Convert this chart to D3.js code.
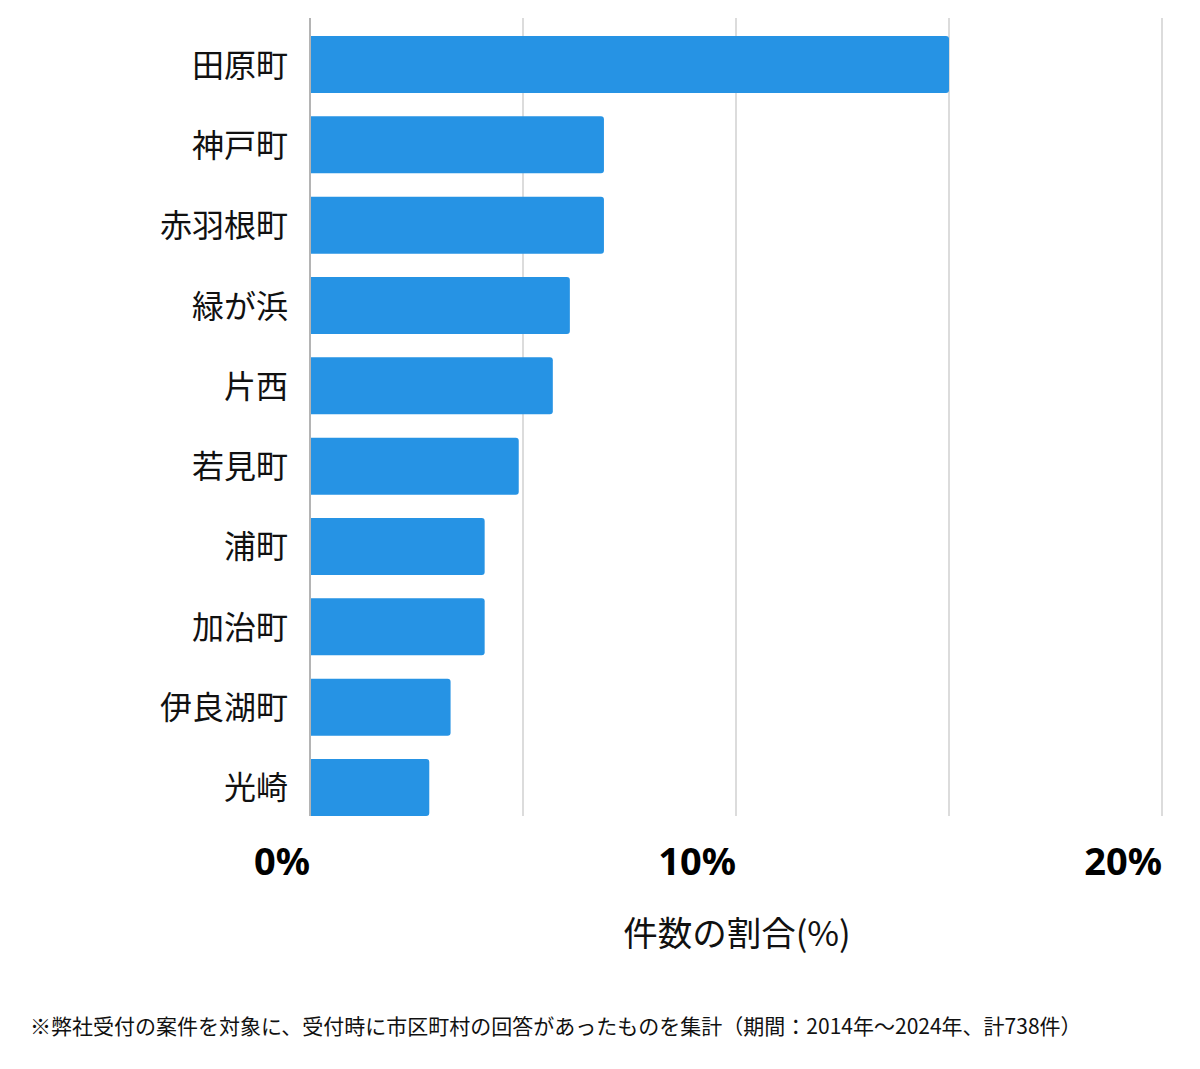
<!DOCTYPE html>
<html><head><meta charset="utf-8">
<script src="https://cdn.jsdelivr.net/npm/d3@7"></script>
<style>body{margin:0;background:#fff;}svg{display:block;}</style>
</head><body>
<svg id="c" width="1200" height="1069"></svg>
<script>
const categories = ["田原町","神戸町","赤羽根町","緑が浜","片西","若見町","浦町","加治町","伊良湖町","光崎"];
const shares = [15.0, 6.9, 6.9, 6.1, 5.7, 4.9, 4.1, 4.1, 3.3, 2.8];
const gridTicks = [0, 5, 10, 15, 20];
const labelTicks = [0, 10, 20];
const axisTitle = "件数の割合(%)";
const footnote = "※弊社受付の案件を対象に、受付時に市区町村の回答があったものを集計（期間：2014年～2024年、計738件）";

const svg = d3.select("#c");
const x = d3.scaleLinear().domain([0, 20]).range([310, 1162]);
const y = d3.scaleBand().domain(categories).range([36, 816]).paddingInner(0.29).paddingOuter(0);
const jp = "'Noto Sans CJK JP','Noto Sans',sans-serif";

// gridlines
svg.append("g").selectAll("line").data(gridTicks.slice(1)).join("line")
  .attr("x1", d => x(d)).attr("x2", d => x(d))
  .attr("y1", 18).attr("y2", 816)
  .attr("stroke", "#dcdcdc").attr("stroke-width", 2);

// bars with right-side rounded corners
const r = 3;
svg.append("g").selectAll("path").data(categories).join("path")
  .attr("fill", "#2693e4")
  .attr("d", (c, i) => {
    const x0 = x(0) + 1, x1 = x(shares[i]), y0 = y(c), h = y.bandwidth();
    return `M${x0},${y0}H${x1 - r}Q${x1},${y0} ${x1},${y0 + r}V${y0 + h - r}Q${x1},${y0 + h} ${x1 - r},${y0 + h}H${x0}Z`;
  });

// axis line
svg.append("line").attr("x1", x(0)).attr("x2", x(0)).attr("y1", 18).attr("y2", 816)
  .attr("stroke", "#b4b4b4").attr("stroke-width", 2);

// category labels
svg.append("g").selectAll("text").data(categories).join("text")
  .attr("x", 288).attr("y", d => y(d) + y.bandwidth() / 2 - 2)
  .attr("text-anchor", "end").attr("dominant-baseline", "central")
  .attr("font-family", jp).attr("font-size", 32).attr("fill", "#111")
  .text(d => d);

// tick labels
svg.append("g").selectAll("text").data(labelTicks).join("text")
  .attr("x", d => x(d)).attr("y", 875)
  .attr("text-anchor", "end")
  .attr("font-family", "'Noto Sans',sans-serif").attr("font-weight", "bold")
  .attr("font-size", 38).attr("fill", "#000")
  .text(d => d + "%");

// axis title
svg.append("text").attr("x", 737).attr("y", 946).attr("text-anchor", "middle")
  .attr("font-family", jp).attr("font-size", 34.5).attr("fill", "#111").text(axisTitle);

// footnote
svg.append("text").attr("x", 30).attr("y", 1034)
  .attr("font-family", jp).attr("font-size", 21).attr("fill", "#111").text(footnote);
</script>
</body></html>
